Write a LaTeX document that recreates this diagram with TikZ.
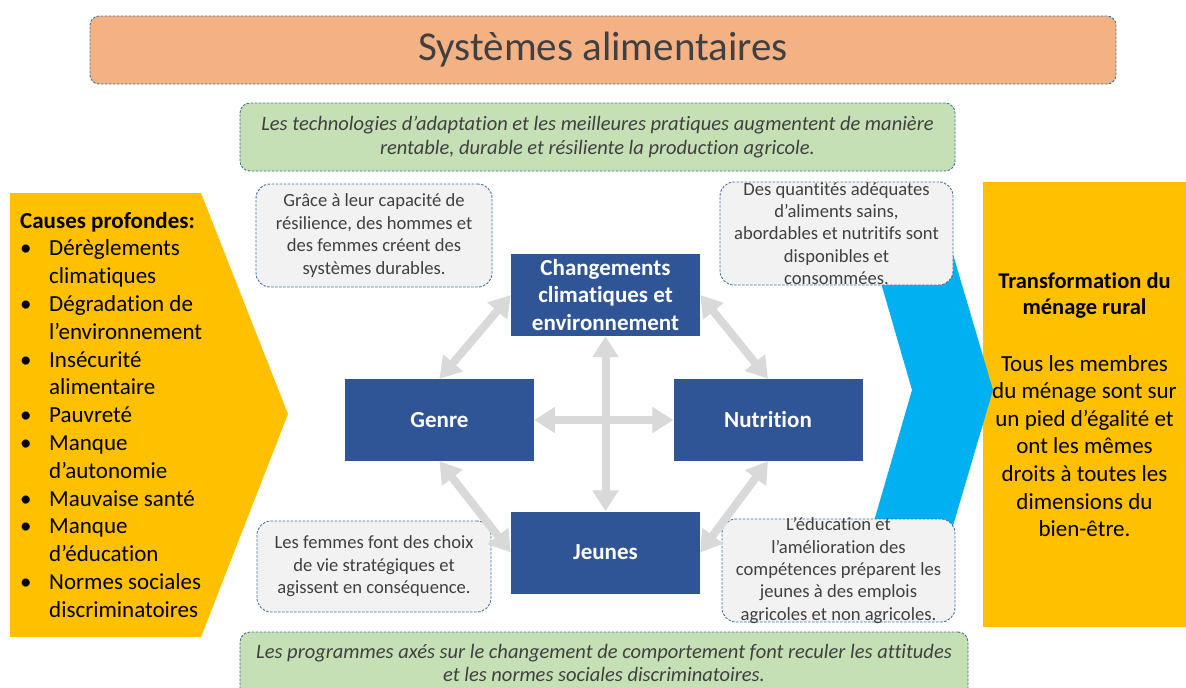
\documentclass[tikz,border=0pt]{standalone}
\usepackage{fontspec}
\setmainfont{Carlito}[Ligatures={TeX,NoCommon}]
\usetikzlibrary{arrows.meta}
\definecolor{titleor}{HTML}{F4B183}
\definecolor{greenbx}{HTML}{C5E0B4}
\definecolor{yel}{HTML}{FFC000}
\definecolor{cyanch}{HTML}{00B0F0}
\definecolor{navy}{HTML}{2F5597}
\definecolor{callfill}{HTML}{F2F2F2}
\definecolor{dashblue}{HTML}{41719C}
\definecolor{arrgray}{HTML}{D9D9D9}
\definecolor{txtgray}{HTML}{404040}
\begin{document}
\begin{tikzpicture}[x=1pt,y=-1pt,
  dashbox/.style={draw=dashblue, line width=0.9pt, dash pattern=on 2.5pt off 1.5pt, rounded corners=10pt, inner sep=0pt},
  callout/.style={dashbox, fill=callfill, rounded corners=14pt},
  ctext/.style={text=txtgray, align=center, font=\fontsize{18.6}{22.4}\selectfont, inner sep=0pt},
  gtext/.style={text=txtgray, align=center, font=\itshape\fontsize{20.5}{23.5}\selectfont, inner sep=0pt},
  theme/.style={fill=navy, text=white, font=\bfseries\fontsize{23}{27.5}\selectfont, align=center, minimum width=189pt, minimum height=82pt, inner sep=0pt},
  link/.style={draw=arrgray, line width=8pt, {Triangle[length=21pt,width=25pt]}-{Triangle[length=21pt,width=25pt]}}
]
\useasboundingbox (0,0) rectangle (1186,688);

% title
\node[dashbox, fill=titleor, minimum width=1026pt, minimum height=68pt, rounded corners=9pt,
      text=txtgray, font=\fontsize{41}{46}\selectfont] (title) at (603,50) {Systèmes alimentaires};

% green boxes
\node[dashbox, fill=greenbx, minimum width=715pt, minimum height=68pt] (gtop) at (597.5,137) {};
\node[gtext] at (gtop.center) {Les technologies d’adaptation et les meilleures pratiques augmentent de manière\\ rentable, durable et résiliente la production agricole.};
\node[dashbox, fill=greenbx, minimum width=728pt, minimum height=68pt] (gbot) at (604,666) {};
\node[gtext] at (604,663) {Les programmes axés sur le changement de comportement font reculer les attitudes\\ et les normes sociales discriminatoires.};

% left chevron
\fill[yel] (10,193) -- (201,193) -- (288,414) -- (201,637) -- (10,637) -- cycle;
\node[anchor=base west, inner sep=0pt, font=\fontsize{23}{27.8}\selectfont] (causes) at (20,228)
{\begin{tabular}[t]{@{}p{29pt}@{}l@{}}
\multicolumn{2}{@{}l@{}}{\bfseries Causes profondes:}\\
\textbullet & Dérèglements\\
 & climatiques\\
\textbullet & Dégradation de\\
 & l’environnement\\
\textbullet & Insécurité\\
 & alimentaire\\
\textbullet & Pauvreté\\
\textbullet & Manque\\
 & d’autonomie\\
\textbullet & Mauvaise santé\\
\textbullet & Manque\\
 & d’éducation\\
\textbullet & Normes sociales\\
 & discriminatoires
\end{tabular}};

% right box
\node[fill=yel, minimum width=203pt, minimum height=445pt, inner sep=0pt] (transf) at (1084.5,404.5)
{\begin{minipage}{203pt}\centering
{\bfseries\fontsize{22.5}{26}\selectfont Transformation du\\ ménage rural\par}
\vspace{29.4pt}
{\fontsize{23}{27.6}\selectfont Tous les membres\\ du ménage sont sur\\ un pied d’égalité et\\ ont les mêmes\\ droits à toutes les\\ dimensions du\\ bien-être.\par}
\end{minipage}};

% blue chevron
\fill[cyanch] (857,200) -- (937,200) -- (993,390) -- (937,580) -- (857,580) -- (912,390) -- cycle;

% callouts
\node[callout, minimum width=236pt, minimum height=103pt] (tl) at (374,235.5) {};
\node[ctext] at (tl.center) {Grâce à leur capacité de\\ résilience, des hommes et\\ des femmes créent des\\ systèmes durables.};
\node[callout, minimum width=233pt, minimum height=103pt] (tr) at (836.5,233.5) {};
\node[ctext] at (tr.center) {Des quantités adéquates\\ d’aliments sains,\\ abordables et nutritifs sont\\ disponibles et\\ consommées.};
\node[callout, minimum width=234pt, minimum height=91pt] (bl) at (374,566.5) {};
\node[ctext] at (bl.center) {Les femmes font des choix\\ de vie stratégiques et\\ agissent en conséquence.};
\node[callout, minimum width=233pt, minimum height=103pt] (br) at (838.5,570.5) {};
\node[ctext] at (br.center) {L’éducation et\\ l’amélioration des\\ compétences préparent les\\ jeunes à des emplois\\ agricoles et non agricoles.};

% themes
\node[theme] (clim) at (605.5,295) {Changements\\ climatiques et\\ environnement};
\node[theme] (genre) at (439.5,420) {Genre};
\node[theme] (nutri) at (768,420) {Nutrition};
\node[theme] (jeunes) at (605.5,552.5) {Jeunes};

% links
\draw[link] (genre.east) -- (nutri.west);
\draw[link] (clim.south) -- (jeunes.north);
\draw[link] (genre.north) -- (clim.west);
\draw[link] (clim.east) -- (nutri.north);
\draw[link] (genre.south) -- (jeunes.west);
\draw[link] (nutri.south) -- (jeunes.east);
\end{tikzpicture}
\end{document}
